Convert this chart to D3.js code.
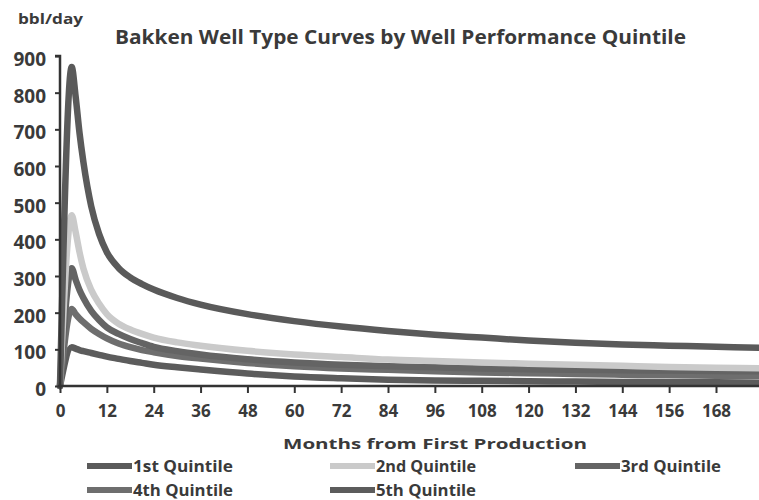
<!DOCTYPE html>
<html>
<head>
<meta charset="utf-8">
<script src="https://cdn.jsdelivr.net/npm/d3@7"></script>
<style>
  html, body { margin: 0; padding: 0; background: #fff; }
  svg { display: block; }
  text { font-family: "Open Sans", "Liberation Sans", sans-serif; font-weight: 700; fill: #3a3a3a; }
</style>
</head>
<body>
<svg id="chart" width="759" height="500"></svg>
<script>
// ---- data ----
const months = [0, 3, 4, 5, 6, 8, 10, 12, 15, 18, 21, 24, 30, 36, 48, 60, 72, 84, 96, 108, 120, 132, 144, 156, 168, 180];
const q1 = [0, 870, 790, 690, 610, 490, 415, 365, 322, 296, 278, 263, 240, 222, 196, 177, 162, 150, 140, 132, 124, 118, 113, 110, 107, 104];
const q2 = [0, 466, 420, 365, 320, 262, 225, 196, 170, 154, 142, 132, 119, 110, 96, 86, 79, 72, 68, 64, 61, 58, 55, 52, 50, 48];
const q3 = [0, 321, 290, 262, 240, 205, 180, 160, 142, 128, 117, 107, 95, 86, 73, 64, 58, 54, 51, 48, 46, 44, 43, 42, 41, 40];
const q4 = [0, 210, 196, 184, 174, 156, 142, 130, 116, 106, 98, 92, 82, 75, 63, 54, 48, 44, 40, 37, 35, 33, 31, 29, 28, 27];
const q5 = [0, 106, 102, 98, 95, 90, 85, 80, 74, 68, 63, 58, 51, 45, 34, 26, 21, 17, 15, 14, 13, 12, 11, 10, 10, 9];
const seriesNames = ["1st Quintile", "2nd Quintile", "3rd Quintile", "4th Quintile", "5th Quintile"];
const seriesColors = ["#5a5a5a", "#cacaca", "#646464", "#6e6e6e", "#5c5c5c"];
const xTicks = [0, 12, 24, 36, 48, 60, 72, 84, 96, 108, 120, 132, 144, 156, 168];
const yTicks = [0, 100, 200, 300, 400, 500, 600, 700, 800, 900];
const title = "Bakken Well Type Curves by Well Performance Quintile";
const yUnit = "bbl/day";
const xTitle = "Months from First Production";

const seriesValues = [q1, q2, q3, q4, q5];

// ---- layout ----
const svg = d3.select("#chart");
const x = d3.scaleLinear().domain([0, 168]).range([60, 716]);
const y = d3.scaleLinear().domain([0, 900]).range([386, 56]);

svg.append("defs").append("clipPath").attr("id", "plotclip")
  .append("rect").attr("x", 55).attr("y", 40).attr("width", 704).attr("height", 350);

// Title and unit
svg.append("text").attr("x", 115).attr("y", 44)
  .attr("textLength", 571).attr("lengthAdjust", "spacingAndGlyphs")
  .style("font-size", "20px").text(title);
svg.append("text").attr("x", 18).attr("y", 24)
  .attr("textLength", 65).attr("lengthAdjust", "spacingAndGlyphs")
  .style("font-size", "14px").text(yUnit);

// Lines (drawn in reverse so upper series lie on top like the picture)
const line = d3.line()
  .x((d, i) => x(months[i]))
  .y(d => y(d))
  .curve(d3.curveMonotoneX);

const g = svg.append("g").attr("clip-path", "url(#plotclip)");
[4, 3, 2, 1, 0].forEach(k => {
  g.append("path")
    .datum(seriesValues[k])
    .attr("d", line)
    .attr("fill", "none")
    .attr("stroke", seriesColors[k])
    .attr("stroke-width", 6.5)
    .attr("stroke-linejoin", "round")
    .attr("stroke-linecap", "round");
});

// Y axis
const yAxis = d3.axisLeft(y).tickValues(yTicks).tickSize(5).tickPadding(9).tickFormat(d3.format("d"));
const ya = svg.append("g").attr("transform", "translate(60,0)").call(yAxis);
ya.select(".domain").attr("stroke", "#333").attr("stroke-width", 2.5)
  .attr("d", "M-5,56H0V386");
ya.selectAll(".tick line").attr("stroke", "#333").attr("stroke-width", 2);
ya.selectAll(".tick text").style("font-size", "19px").attr("dy", "0.5em").attr("fill", "#3a3a3a");

// X axis
const xAxis = d3.axisBottom(x).tickValues(xTicks).tickSize(7).tickPadding(12);
const xa = svg.append("g").attr("transform", "translate(0,386)").call(xAxis);
xa.select(".domain").attr("stroke", "#333").attr("stroke-width", 2.5).attr("d", "M58,0H759");
xa.selectAll(".tick line").attr("stroke", "#333").attr("stroke-width", 2);
xa.selectAll(".tick text").style("font-size", "17px").attr("fill", "#3a3a3a");

// X title
svg.append("text").attr("x", 435).attr("y", 449).attr("text-anchor", "middle")
  .attr("textLength", 304).attr("lengthAdjust", "spacingAndGlyphs")
  .style("font-size", "14px").text(xTitle);

// Legend
const legendPos = [
  {sx: 87, y: 466}, {sx: 330, y: 466}, {sx: 575, y: 466},
  {sx: 87, y: 490}, {sx: 330, y: 490}
];
seriesNames.forEach((name, k) => {
  const p = legendPos[k];
  svg.append("line").attr("x1", p.sx).attr("x2", p.sx + 45)
    .attr("y1", p.y).attr("y2", p.y)
    .attr("stroke", seriesColors[k]).attr("stroke-width", 6);
  svg.append("text").attr("x", p.sx + 46).attr("y", p.y + 6)
    .attr("textLength", 100).attr("lengthAdjust", "spacingAndGlyphs")
    .style("font-size", "16px").text(name);
});
</script>
</body>
</html>
